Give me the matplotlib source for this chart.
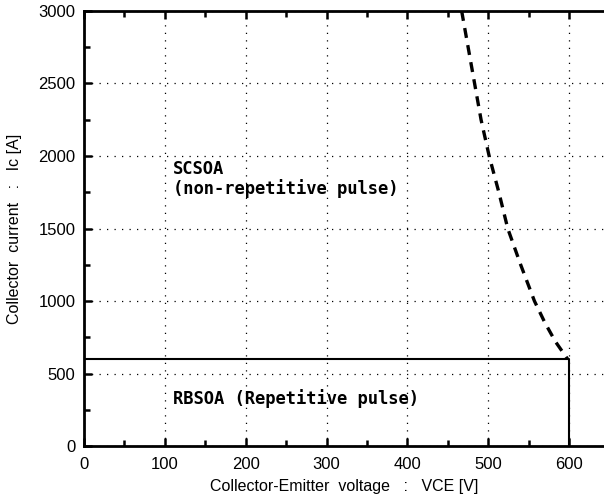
import matplotlib
matplotlib.use("Agg")
import matplotlib.pyplot as plt
from matplotlib.ticker import MultipleLocator

# RBSOA rectangle corner
rbsoa_v = [0, 600, 600]
rbsoa_i = [600, 600, 0]

# SCSOA boundary (dashed)
scsoa_v = [467, 475, 483, 491, 501, 513, 524, 540, 557, 570, 583, 598]
scsoa_i = [3000, 2750, 2500, 2250, 2000, 1750, 1500, 1250, 1000, 850, 720, 600]

plt.rcParams["font.family"] = ["Liberation Sans", "DejaVu Sans"]

fig = plt.figure(figsize=(6.04, 4.99), dpi=100)
ax = fig.add_axes([0.139, 0.106, 0.861, 0.872])

ax.plot(rbsoa_v, rbsoa_i, color="black", lw=1.5, solid_capstyle="butt")
ax.plot(scsoa_v, scsoa_i, color="black", lw=2.4, dashes=(3, 2.2))

ax.text(110, 1975, "SCSOA\n(non-repetitive pulse)", family="DejaVu Sans Mono",
        weight="bold", fontsize=12.3, va="top", ha="left", linespacing=1.1)
ax.text(110, 330, "RBSOA (Repetitive pulse)", family="DejaVu Sans Mono",
        weight="bold", fontsize=12.3, va="center", ha="left")

ax.set_xlim(0, 643)
ax.set_ylim(0, 3000)
ax.xaxis.set_major_locator(MultipleLocator(100))
ax.xaxis.set_minor_locator(MultipleLocator(50))
ax.yaxis.set_major_locator(MultipleLocator(500))
ax.yaxis.set_minor_locator(MultipleLocator(250))
ax.tick_params(which="both", direction="in", top=True, width=1.8)
ax.tick_params(which="major", length=6, labelsize=12)
ax.tick_params(which="minor", length=4)
ax.tick_params(axis="x", pad=8)
ax.tick_params(axis="y", pad=6)

ax.grid(True, which="major", color="black", linestyle=(0, (1, 5)), lw=0.9)

for s in ["left", "bottom", "top"]:
    ax.spines[s].set_linewidth(2)
ax.spines["right"].set_visible(False)

ax.set_xlabel("Collector-Emitter  voltage   :   VCE [V]", fontsize=11.5, labelpad=5)
ax.set_ylabel("Collector  current   :   Ic [A]", fontsize=11.5, labelpad=12)

plt.savefig("out.png", dpi=100)
